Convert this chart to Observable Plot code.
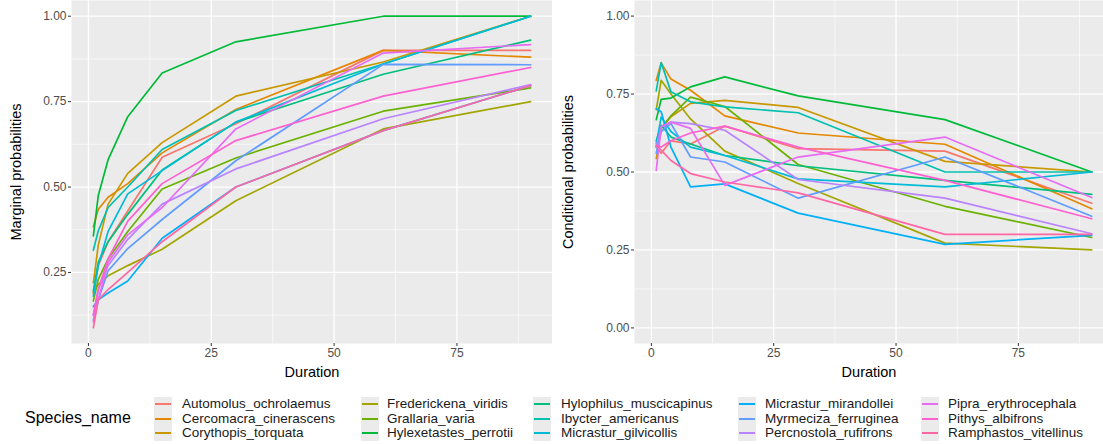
<!DOCTYPE html><html><head><meta charset="utf-8">
<script src="https://cdn.jsdelivr.net/npm/d3@7"></script>
<script src="https://cdn.jsdelivr.net/npm/@observablehq/plot@0.6"></script>
<style>
body{margin:0;background:#fff;font-family:"Liberation Sans",Arial,sans-serif;width:1103px;height:444px;overflow:hidden;position:relative}
#row{display:flex;position:absolute;top:0;left:0}
.leg{position:absolute;font-size:13.5px;color:#1a1a1a;white-space:nowrap;line-height:14.5px}
.key{position:absolute;width:18px;height:14.5px;background:#EBEBEB}
.key i{position:absolute;left:1px;right:1px;top:6px;height:2px}
</style></head><body>
<div id="row"></div><div id="legend"></div>
<script>
const durations=[1,2,4,8,15,30,60,90];
const species=["Automolus_ochrolaemus","Cercomacra_cinerascens","Corythopis_torquata","Frederickena_viridis","Grallaria_varia","Hylexetastes_perrotii","Hylophilus_muscicapinus","Ibycter_americanus","Micrastur_gilvicollis","Micrastur_mirandollei","Myrmeciza_ferruginea","Percnostola_rufifrons","Pipra_erythrocephala","Pithys_albifrons","Ramphastos_vitellinus"];
const colors=["#F8766D","#E58700","#C99800","#A3A500","#6BB100","#00BA38","#00BF7D","#00C0AF","#00BCD8","#00B0F6","#619CFF","#B983FF","#E76BF3","#FD61D1","#FF67A4"];
const marginal=[
[0.19,0.27,0.34,0.43,0.587,0.685,0.90,0.90],
[0.384,0.435,0.47,0.51,0.60,0.727,0.90,0.88],
[0.22,0.33,0.45,0.54,0.63,0.766,0.866,1.0],
[0.19,0.215,0.24,0.27,0.318,0.46,0.67,0.75],
[0.166,0.23,0.29,0.37,0.494,0.585,0.722,0.79],
[0.357,0.475,0.58,0.706,0.834,0.925,1.0,1.0],
[0.196,0.28,0.34,0.42,0.55,0.69,0.83,0.93],
[0.315,0.372,0.44,0.50,0.61,0.724,0.86,1.0],
[0.18,0.27,0.37,0.48,0.548,0.69,0.86,1.0],
[0.15,0.17,0.19,0.225,0.35,0.50,0.665,0.797],
[0.11,0.17,0.255,0.32,0.405,0.577,0.859,0.858],
[0.125,0.2,0.27,0.347,0.45,0.553,0.70,0.80],
[0.105,0.17,0.28,0.36,0.44,0.67,0.892,0.917],
[0.125,0.2,0.29,0.40,0.51,0.636,0.766,0.85],
[0.088,0.17,0.20,0.25,0.34,0.50,0.665,0.797]];
const conditional=[
[0.58,0.56,0.60,0.59,0.647,0.575,0.567,0.40],
[0.794,0.85,0.798,0.762,0.68,0.625,0.589,0.382],
[0.543,0.64,0.677,0.72,0.73,0.707,0.534,0.50],
[0.70,0.794,0.75,0.67,0.567,0.463,0.272,0.25],
[0.58,0.64,0.68,0.74,0.71,0.524,0.39,0.29],
[0.668,0.733,0.737,0.773,0.805,0.744,0.668,0.50],
[0.60,0.65,0.612,0.59,0.553,0.52,0.473,0.428],
[0.76,0.851,0.757,0.725,0.709,0.69,0.50,0.50],
[0.59,0.676,0.63,0.58,0.553,0.478,0.452,0.50],
[0.703,0.693,0.58,0.452,0.462,0.368,0.268,0.297],
[0.56,0.63,0.655,0.548,0.532,0.416,0.548,0.358],
[0.58,0.645,0.66,0.655,0.634,0.476,0.416,0.302],
[0.505,0.645,0.66,0.64,0.457,0.548,0.612,0.418],
[0.585,0.58,0.60,0.625,0.647,0.58,0.473,0.35],
[0.585,0.57,0.537,0.495,0.468,0.433,0.30,0.30]];
function rows(m){const r=[];species.forEach((s,i)=>durations.forEach((d,j)=>r.push({s,d,v:m[i][j]})));return r;}
const xTicks=[0,25,50,75], xMinor=[12.5,37.5,62.5,87.5];
function chart(data,label,yDom,yTicks,yMinor,width,ml,xDom){
  return Plot.plot({width,height:380,marginLeft:ml,marginRight:0,marginTop:0,marginBottom:37,
    style:{fontFamily:"Liberation Sans, Arial, sans-serif",fontSize:"12px",color:"#4d4d4d",background:"#fff"},
    x:{domain:xDom},y:{domain:yDom},
    color:{domain:species,range:colors},
    marks:[
      Plot.frame({fill:"#EBEBEB"}),
      Plot.gridX(xMinor,{stroke:"#fff",strokeOpacity:1,strokeWidth:0.6}),
      Plot.gridY(yMinor,{stroke:"#fff",strokeOpacity:1,strokeWidth:0.6}),
      Plot.gridX(xTicks,{stroke:"#fff",strokeOpacity:1,strokeWidth:1.3}),
      Plot.gridY(yTicks,{stroke:"#fff",strokeOpacity:1,strokeWidth:1.3}),
      Plot.axisX(xTicks,{tickSize:3,stroke:"#333",tickPadding:2,label:"Duration",labelAnchor:"center",labelArrow:"none",labelOffset:33,fontSize:12}),
      Plot.axisY(yTicks,{tickSize:3,stroke:"#333",tickPadding:2,tickFormat:d3.format(".2f"),label,labelAnchor:"center",labelArrow:"none",labelOffset:ml-10,fontSize:12}),
      Plot.line(data,{x:"d",y:"v",z:"s",stroke:"s",strokeWidth:1.7})
    ]});
}
const row=document.getElementById("row");
const a=chart(rows(marginal),"Marginal probabilities",[0.042,1.046],[0.25,0.5,0.75,1],[0.125,0.375,0.625,0.875],552,71,[-3.45,94.45]);
const b=chart(rows(conditional),"Conditional probabilities",[-0.05,1.05],[0,0.25,0.5,0.75,1],[0.125,0.375,0.625,0.875],551,82,[-3.45,92.4]);
row.append(a,b);
row.querySelectorAll("g[aria-label='x-axis label'] text, g[aria-label='y-axis label'] text").forEach(t=>{t.style.fontSize="14.5px";t.style.fill="#000";});
const leg=document.getElementById("legend");
let h='<div class="leg" style="left:25px;top:409px;font-size:16px;color:#000;line-height:18px">Species_name</div>';
const colX=[154,361,533,738,921], txtX=[182,387,561,765,948];
species.forEach((s,i)=>{const c=Math.floor(i/3),r=i%3;const y=397+r*14.5;
h+=`<div class="key" style="left:${colX[c]}px;top:${y}px"><i style="background:${colors[i]}"></i></div><div class="leg" style="left:${txtX[c]}px;top:${y}px">${s}</div>`;});
leg.innerHTML=h;
</script></body></html>
